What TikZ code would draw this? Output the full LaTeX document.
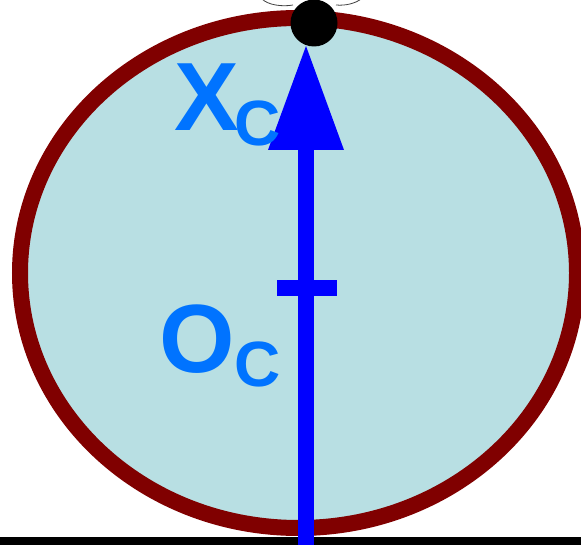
\documentclass[tikz,border=0pt]{standalone}
\usepackage{fontspec}
\setmainfont{Liberation Sans}
\definecolor{shellred}{RGB}{128,0,0}
\definecolor{innerblue}{RGB}{184,223,227}
\definecolor{axisblue}{RGB}{0,0,255}
\definecolor{labelblue}{RGB}{0,115,255}
\begin{document}
\begin{tikzpicture}[x=1pt,y=-1pt,
  lab/.style={text=labelblue,font=\bfseries\fontsize{97}{97}\selectfont,inner sep=0pt,anchor=base west},
  sublab/.style={text=labelblue,font=\bfseries\fontsize{64}{64}\selectfont,inner sep=0pt,anchor=base west}]
\useasboundingbox (0,0) rectangle (581,545);
\clip (0,0) rectangle (581,545);
% body
\draw[line width=16pt,draw=shellred,fill=innerblue] (298.5,273) ellipse [x radius=278.5,y radius=255];
% ground
\fill[black] (0,537) rectangle (581,546);
% faint curls at top
\draw[line width=0.8pt,black!75] (262,-1) .. controls (268,5) and (282,7) .. (293,5);
\draw[line width=0.8pt,black!75] (336,5) .. controls (346,6) and (356,3) .. (361,-1);
% axis
\coordinate (base) at (306,546);
\coordinate (headbase) at (306,150);
\coordinate (tip) at (306,46);
\draw[line width=16pt,axisblue] (base) -- (headbase);
\fill[axisblue] (268,150) -- (tip) -- (344,150) -- cycle;
\fill[axisblue] (277,280) rectangle (337,296);
% contact point
\node[circle,fill=black,inner sep=0pt,minimum size=47pt] (dot) at (314,23) {};
% labels
\node[lab] (xc) at (174,131) {X};
\node[sublab] (xcs) at (234,146) {C};
\node[lab] (oc) at (159,372) {O};
\node[sublab] (ocs) at (234,386) {C};
\end{tikzpicture}
\end{document}
